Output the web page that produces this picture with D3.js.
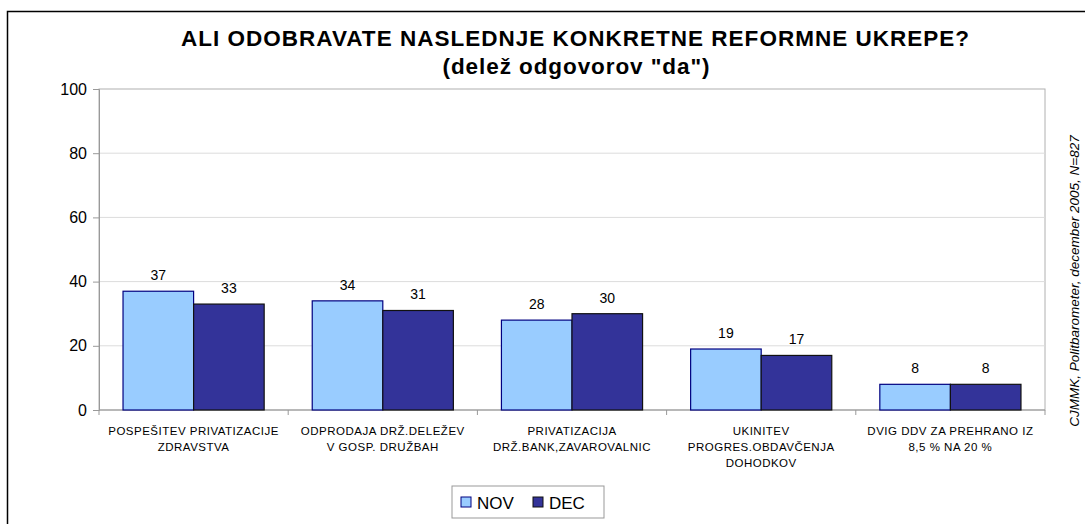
<!DOCTYPE html>
<html>
<head>
<meta charset="utf-8">
<script src="https://cdn.jsdelivr.net/npm/d3@7"></script>
<style>
  body { margin: 0; background: #fff; }
  text { font-family: "Liberation Sans", Arial, sans-serif; }
</style>
</head>
<body>
<svg width="1085" height="524"></svg>
<script>
// data
var categories = [
  ["POSPEŠITEV PRIVATIZACIJE", "ZDRAVSTVA"],
  ["ODPRODAJA DRŽ.DELEŽEV", "V GOSP. DRUŽBAH"],
  ["PRIVATIZACIJA", "DRŽ.BANK,ZAVAROVALNIC"],
  ["UKINITEV", "PROGRES.OBDAVČENJA", "DOHODKOV"],
  ["DVIG DDV ZA PREHRANO IZ", "8,5 % NA 20 %"]
];
var seriesNames = ["NOV", "DEC"];
var nov = [37, 34, 28, 19, 8];
var dec = [33, 31, 30, 17, 8];
var yTicks = [0, 20, 40, 60, 80, 100];

var svg = d3.select("svg");

// outer frame (right/bottom run off the picture)
svg.append("path")
    .attr("d", "M7.5,530V11.5H1090")
    .attr("fill", "none")
    .attr("stroke", "#000")
    .attr("stroke-width", 1.5);

var plotL = 99, plotR = 1045, plotT = 89, plotB = 410;

var x0 = d3.scaleBand()
    .domain(d3.range(categories.length))
    .range([plotL, plotR])
    .paddingInner(0.254)
    .paddingOuter(0.127);

var x1 = d3.scaleBand()
    .domain(seriesNames)
    .range([0, x0.bandwidth()]);

var y = d3.scaleLinear()
    .domain([0, 100])
    .range([plotB, plotT]);

var colors = { NOV: "#99ccff", DEC: "#333399" };
var strokes = { NOV: "#000080", DEC: "#111" };

// plot frame + gridlines
svg.append("rect")
    .attr("x", plotL).attr("y", plotT)
    .attr("width", plotR - plotL).attr("height", plotB - plotT)
    .attr("fill", "none")
    .attr("stroke", "#b0b0b0");

svg.append("g")
    .selectAll("line")
    .data(yTicks.slice(1, -1))
    .join("line")
      .attr("x1", plotL).attr("x2", plotR)
      .attr("y1", function(d) { return y(d); })
      .attr("y2", function(d) { return y(d); })
      .attr("stroke", "#dcdcdc");

// y axis
var yAxis = svg.append("g")
    .attr("transform", "translate(" + plotL + ",0)")
    .call(d3.axisLeft(y).tickValues(yTicks).tickSize(6).tickPadding(6));
yAxis.select(".domain").attr("stroke", "#999");
yAxis.selectAll(".tick line").attr("stroke", "#999");
yAxis.selectAll(".tick text")
    .attr("font-size", 16)
    .attr("fill", "#000")
    .style("font-family", "Liberation Sans, Arial, sans-serif");

// x axis line + ticks between groups
var xTickPos = d3.range(categories.length + 1).map(function(i) {
  return plotL + i * x0.step();
});
svg.append("line")
    .attr("x1", plotL).attr("x2", plotR)
    .attr("y1", plotB).attr("y2", plotB)
    .attr("stroke", "#999");
svg.append("g")
    .selectAll("line")
    .data(xTickPos)
    .join("line")
      .attr("x1", function(d) { return d; })
      .attr("x2", function(d) { return d; })
      .attr("y1", plotB).attr("y2", plotB + 5)
      .attr("stroke", "#999");

// bars
var rows = categories.map(function(c, i) {
  return { i: i, values: [{ key: "NOV", v: nov[i] }, { key: "DEC", v: dec[i] }] };
});

var groups = svg.append("g")
    .selectAll("g")
    .data(rows)
    .join("g")
      .attr("transform", function(d) { return "translate(" + x0(d.i) + ",0)"; });

groups.selectAll("rect")
    .data(function(d) { return d.values; })
    .join("rect")
      .attr("x", function(d) { return x1(d.key); })
      .attr("y", function(d) { return y(d.v); })
      .attr("width", x1.bandwidth())
      .attr("height", function(d) { return y(0) - y(d.v); })
      .attr("fill", function(d) { return colors[d.key]; })
      .attr("stroke", function(d) { return strokes[d.key]; })
      .attr("stroke-width", 1.2);

groups.selectAll("text.val")
    .data(function(d) { return d.values; })
    .join("text")
      .attr("class", "val")
      .attr("x", function(d) { return x1(d.key) + x1.bandwidth() / 2; })
      .attr("y", function(d) { return y(d.v) - 11; })
      .attr("text-anchor", "middle")
      .attr("font-size", 14)
      .text(function(d) { return d.v; });

// category labels
var catLabels = svg.append("g")
    .selectAll("text")
    .data(categories)
    .join("text")
      .attr("x", function(d, i) { return x0(i) + x0.bandwidth() / 2; })
      .attr("y", 434.5)
      .attr("text-anchor", "middle")
      .attr("font-size", 11.5)
      .attr("letter-spacing", 0.5);
catLabels.selectAll("tspan")
    .data(function(d) { return d; })
    .join("tspan")
      .attr("x", function() { return this.parentNode.getAttribute("x"); })
      .attr("dy", function(d, i) { return i ? 16 : 0; })
      .text(function(d) { return d; });

// title
svg.append("text")
    .attr("x", 575).attr("y", 46)
    .attr("text-anchor", "middle")
    .attr("font-size", 22.5).attr("font-weight", "bold")
    .attr("textLength", 788).attr("lengthAdjust", "spacing")
    .text("ALI ODOBRAVATE NASLEDNJE KONKRETNE REFORMNE UKREPE?");
svg.append("text")
    .attr("x", 576).attr("y", 74)
    .attr("text-anchor", "middle")
    .attr("font-size", 22.5).attr("font-weight", "bold")
    .attr("textLength", 267).attr("lengthAdjust", "spacing")
    .text("(delež odgovorov \"da\")");

// source note, rotated
svg.append("text")
    .attr("transform", "translate(1079,281) rotate(-90)")
    .attr("text-anchor", "middle")
    .attr("font-size", 13.5).attr("font-style", "italic")
    .text("CJMMK, Politbarometer, december 2005, N=827");

// legend
var legend = svg.append("g").attr("transform", "translate(452,486)");
legend.append("rect")
    .attr("width", 152).attr("height", 32)
    .attr("fill", "#fff").attr("stroke", "#999");
var items = legend.selectAll("g.item")
    .data(seriesNames)
    .join("g")
      .attr("class", "item")
      .attr("transform", function(d, i) { return "translate(" + (9 + i * 72) + ",0)"; });
items.append("rect")
    .attr("x", 0).attr("y", 11)
    .attr("width", 10).attr("height", 10)
    .attr("fill", function(d) { return colors[d]; })
    .attr("stroke", function(d) { return strokes[d]; });
items.append("text")
    .attr("x", 16).attr("y", 23)
    .attr("font-size", 17)
    .text(function(d) { return d; });
</script>
</body>
</html>
